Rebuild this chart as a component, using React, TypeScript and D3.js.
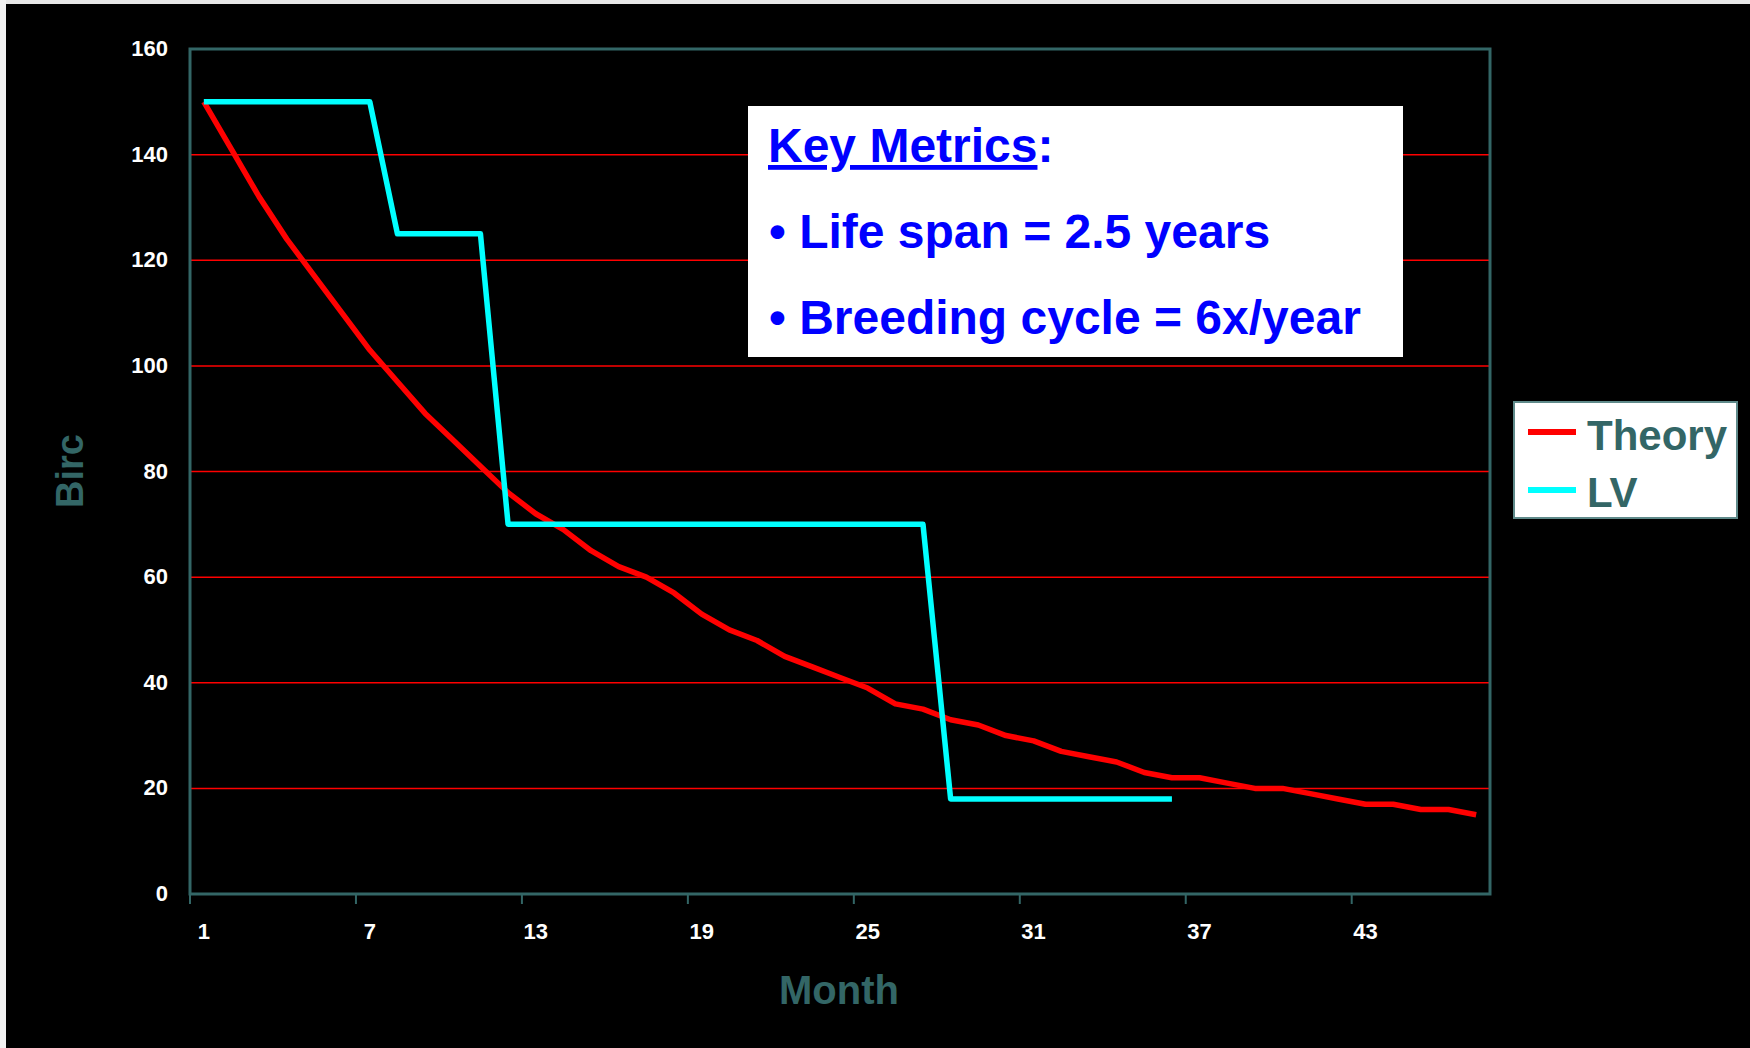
import React from "react";
import * as d3 from "d3";

// months on the category axis
const months = d3.range(1, 48);

// birds alive per month, theoretical survival curve
const theory = [
  150, 141, 132, 124, 117, 110, 103, 97, 91, 86, 81, 76, 72, 69, 65, 62, 60,
  57, 53, 50, 48, 45, 43, 41, 39, 36, 35, 33, 32, 30, 29, 27, 26, 25, 23, 22,
  22, 21, 20, 20, 19, 18, 17, 17, 16, 16, 15,
];

// LV population steps (data stops at month 36)
const lv = [
  150, 150, 150, 150, 150, 150, 150, 125, 125, 125, 125, 70, 70, 70, 70, 70,
  70, 70, 70, 70, 70, 70, 70, 70, 70, 70, 70, 18, 18, 18, 18, 18, 18, 18, 18,
  18,
];

const tickMonths = [1, 7, 13, 19, 25, 31, 37, 43];
const yTicks = [0, 20, 40, 60, 80, 100, 120, 140, 160];

const series = [
  { name: "Theory", color: "#ff0000", values: theory },
  { name: "LV", color: "#00ffff", values: lv },
];

const metrics = ["Life span = 2.5 years", "Breeding cycle = 6x/year"];

const width = 1750;
const height = 1048;
const font = "Arial, 'Liberation Sans', sans-serif";
const teal = "#336666";

export default function App() {
  const left = 190;
  const right = 1490;
  const top = 49;
  const bottom = 894;

  const x = d3.scaleBand<number>().domain(months).range([left, right]);
  const y = d3.scaleLinear().domain([0, 160]).range([bottom, top]);
  const cx = (m: number) => (x(m) as number) + x.bandwidth() / 2;

  const line = d3
    .line<number>()
    .x((_, i) => cx(months[i]))
    .y((d) => y(d));

  return (
    <svg
      width={width}
      height={height}
      style={{ position: "absolute", left: 0, top: 0, background: "#000" }}
      fontFamily={font}
      fontWeight="bold"
    >
      {/* slide edges */}
      <rect x={0} y={0} width={width} height={4} fill="#e8e8e8" />
      <rect x={0} y={0} width={6} height={height} fill="#f2f2f2" />

      {/* gridlines */}
      {yTicks.slice(1).map((t) => (
        <line key={t} x1={left} x2={right} y1={y(t)} y2={y(t)} stroke="#ff0000" strokeWidth={1.5} />
      ))}

      {/* plot frame */}
      <rect x={left} y={top} width={right - left} height={bottom - top} fill="none" stroke={teal} strokeWidth={3} />

      {/* y tick labels */}
      {yTicks.map((t) => (
        <text key={t} x={168} y={y(t) + 7} textAnchor="end" fill="#fff" fontSize={22}>
          {t}
        </text>
      ))}

      {/* x ticks + labels */}
      {tickMonths.map((m) => (
        <g key={m}>
          <line x1={x(m)} x2={x(m)} y1={bottom} y2={bottom + 10} stroke={teal} strokeWidth={2} />
          <text x={cx(m)} y={939} textAnchor="middle" fill="#fff" fontSize={22}>
            {m}
          </text>
        </g>
      ))}

      {/* series */}
      {series.map((s) => (
        <path
          key={s.name}
          d={line(s.values) || ""}
          fill="none"
          stroke={s.color}
          strokeWidth={5.5}
          strokeLinejoin="round"
        />
      ))}

      {/* axis titles */}
      <text x={839} y={1004} textAnchor="middle" fill={teal} fontSize={40}>
        Month
      </text>
      <text transform="translate(83,508) rotate(-90)" fill={teal} fontSize={38}>
        Birc
      </text>

      {/* key metrics box */}
      <rect x={748} y={106} width={655} height={251} fill="#fff" />
      <text x={768} y={162} fill="#0000ff" fontSize={48}>
        <tspan textDecoration="underline">Key Metrics</tspan>:
      </text>
      {metrics.map((t, i) => (
        <text key={t} x={769} y={248 + i * 86} fill="#0000ff" fontSize={48}>
          {"\u2022 " + t}
        </text>
      ))}

      {/* legend */}
      <rect x={1514} y={402} width={223} height={116} fill="#fff" stroke="#5f8a8a" strokeWidth={2} />
      {series.map((s, i) => (
        <g key={s.name}>
          <line x1={1528} x2={1576} y1={432 + i * 58} y2={432 + i * 58} stroke={s.color} strokeWidth={6} />
          <text x={1587} y={450 + i * 57} fill={teal} fontSize={42}>
            {s.name}
          </text>
        </g>
      ))}
    </svg>
  );
}
